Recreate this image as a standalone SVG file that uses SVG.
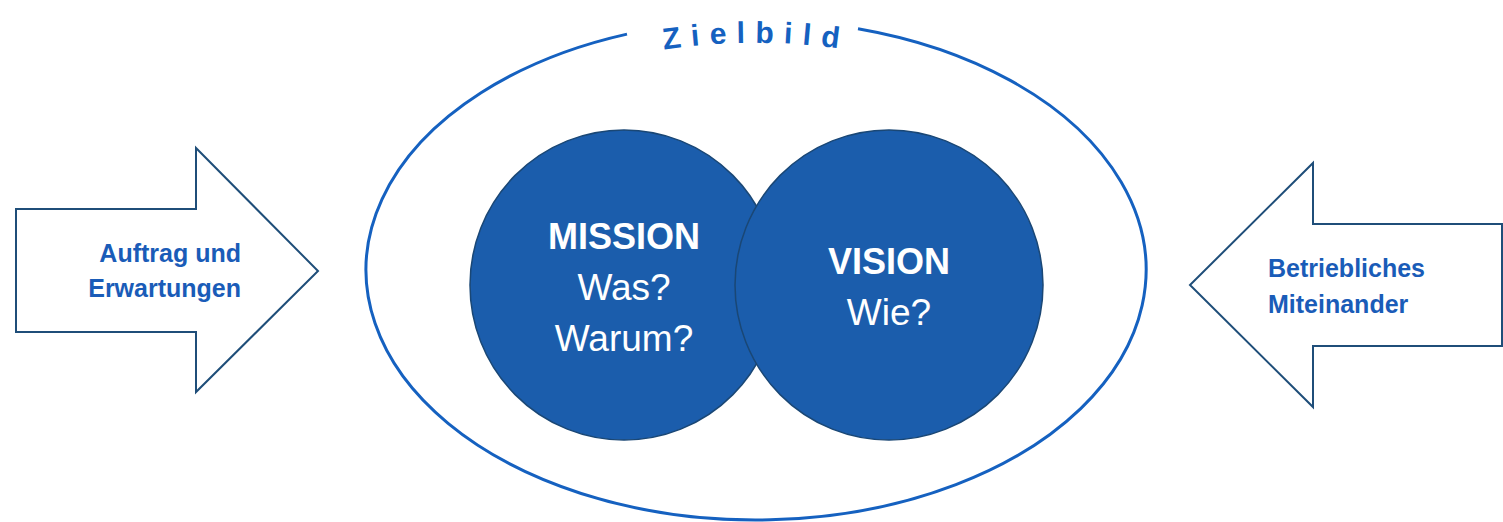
<svg xmlns="http://www.w3.org/2000/svg" width="1503" height="522" viewBox="0 0 1503 522">
  <style>
    .arrow { fill: #ffffff; stroke: #1F4E79; stroke-width: 2; stroke-linejoin: miter; }
    .lbl { font-family: "Liberation Sans", Arial, sans-serif; font-weight: bold; font-size: 25px; fill: #1A5CB8; }
    .circ { fill: #1B5DAC; stroke: #1A4775; stroke-width: 1.5; }
    .head { font-family: "Liberation Sans", Arial, sans-serif; font-weight: bold; font-size: 36px; fill: #ffffff; text-anchor: middle; }
    .sub { font-family: "Liberation Sans", Arial, sans-serif; font-size: 37px; fill: #ffffff; text-anchor: middle; }
  </style>
  <defs>
    <path id="titlePath" d="M 590 66 A 378 228 0 0 1 922 66"/>
  </defs>
  <rect width="1503" height="522" fill="#ffffff"/>

  <g id="zielbild">
    <path d="M 858 28.7 A 390 250 0 1 1 627 34.1" fill="none" stroke="#1561C0" stroke-width="3"/>
    <text font-family="'Liberation Sans', Arial, sans-serif" font-weight="bold" font-size="30" fill="#1561C0" letter-spacing="10">
      <textPath href="#titlePath" startOffset="50%" text-anchor="middle">Zielbild</textPath>
    </text>
  </g>

  <g id="mission">
    <ellipse class="circ" cx="624" cy="285" rx="154" ry="155"/>
    <text class="head" x="624" y="249">MISSION</text>
    <text class="sub" x="624" y="300">Was?</text>
    <text class="sub" x="624" y="351">Warum?</text>
  </g>

  <g id="vision">
    <ellipse class="circ" cx="889" cy="285" rx="154" ry="155"/>
    <text class="head" x="889" y="274">VISION</text>
    <text class="sub" x="889" y="325">Wie?</text>
  </g>

  <g id="auftrag">
    <polygon class="arrow" points="16,209 196,209 196,148 318,271 196,392 196,332 16,332"/>
    <text class="lbl" x="241" y="262" text-anchor="end">Auftrag und</text>
    <text class="lbl" x="241" y="297" text-anchor="end">Erwartungen</text>
  </g>

  <g id="miteinander">
    <polygon class="arrow" points="1502,224 1313,224 1313,163 1190,285 1313,407 1313,346 1502,346"/>
    <text class="lbl" x="1268" y="277">Betriebliches</text>
    <text class="lbl" x="1268" y="313">Miteinander</text>
  </g>

  <g id="connectors"/>
</svg>
